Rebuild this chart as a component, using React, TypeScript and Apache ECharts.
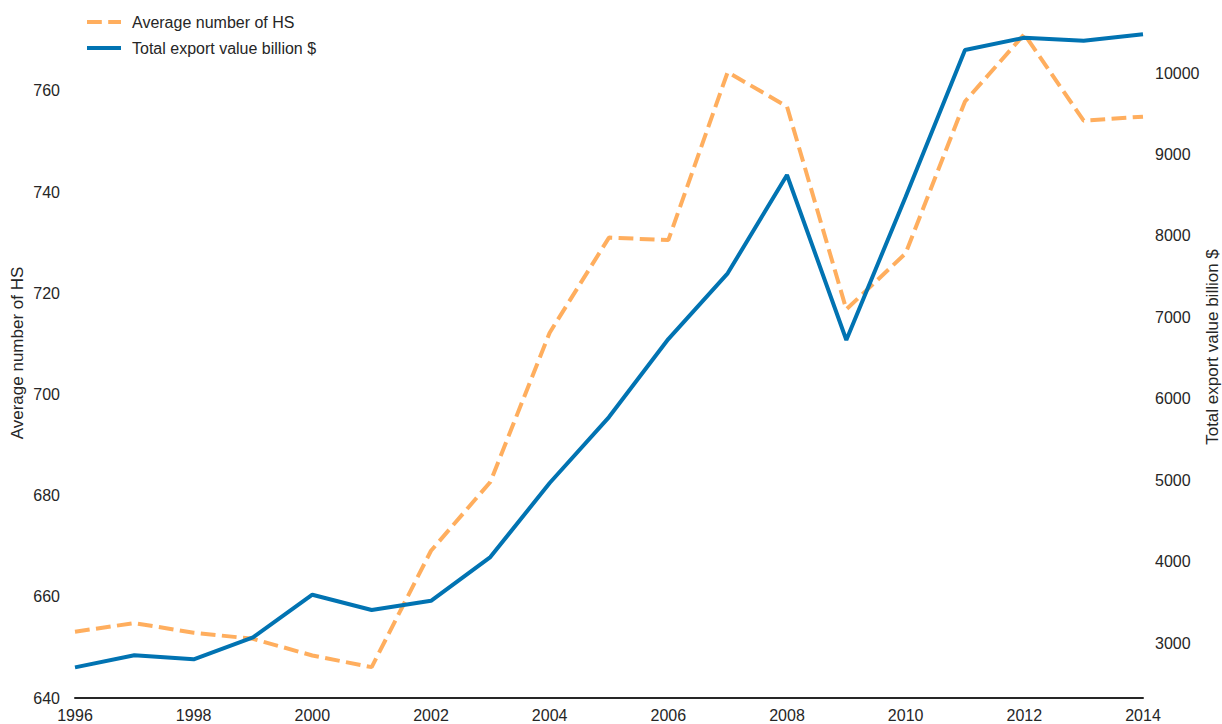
import React, { useEffect, useRef } from "react";
import * as echarts from "echarts";

const years = [1996, 1997, 1998, 1999, 2000, 2001, 2002, 2003, 2004, 2005, 2006, 2007, 2008, 2009, 2010, 2011, 2012, 2013, 2014];
const avgHS = [653.1, 654.8, 652.9, 651.7, 648.4, 646.1, 669.1, 682.7, 712.2, 731.0, 730.5, 763.7, 756.9, 716.8, 727.9, 757.9, 771.2, 754.1, 754.9];
const exportValue = [2701, 2849, 2800, 3070, 3593, 3405, 3519, 4056, 4965, 5775, 6733, 7540, 8747, 6721, 8481, 10282, 10433, 10396, 10475];

const leftName = "Average number of HS";
const rightName = "Total export value billion $";

const FONT = "'Liberation Sans', Arial, Helvetica, sans-serif";
const TEXT = "#262626";
const FS = 16;
const NAME_FS = 17;

export default function App() {
  const ref = useRef<HTMLDivElement>(null);
  useEffect(() => {
    if (!ref.current) return;
    const chart = echarts.init(ref.current, null, { renderer: "svg" });
    chart.setOption({
      animation: false,
      backgroundColor: "#ffffff",
      textStyle: { fontFamily: FONT },
      grid: { left: 75, right: 79, top: 20, bottom: 26, outerBoundsMode: "none", containLabel: false },
      legend: {
        orient: "vertical",
        left: 80,
        top: 9,
        itemWidth: 34,
        itemHeight: 14,
        itemGap: 10,
        itemStyle: { opacity: 0 },
        lineStyle: { width: 4 },
        textStyle: { fontFamily: FONT, fontSize: FS, color: TEXT, padding: [0, 0, 0, 6] },
        data: [leftName, rightName],
      },
      graphic: [
        {
          type: "text",
          x: 17,
          y: 353,
          rotation: Math.PI / 2,
          style: { text: leftName, fill: TEXT, font: `${NAME_FS}px ${FONT}`, textAlign: "center", textVerticalAlign: "middle" },
        },
        {
          type: "text",
          x: 1212,
          y: 347,
          rotation: Math.PI / 2,
          style: { text: rightName, fill: TEXT, font: `${NAME_FS}px ${FONT}`, textAlign: "center", textVerticalAlign: "middle" },
        },
      ],
      xAxis: {
        type: "value",
        min: 1996,
        max: 2014,
        interval: 2,
        axisLine: { show: true, lineStyle: { color: TEXT, width: 2 } },
        axisTick: { show: false },
        splitLine: { show: false },
        axisLabel: { color: TEXT, fontSize: FS, fontFamily: FONT, margin: 9, formatter: (v: number) => String(v) },
      },
      yAxis: [
        {
          type: "value",
          min: 640,
          max: 774,
          interval: 20,
          axisLine: { show: false },
          axisTick: { show: false },
          splitLine: { show: false },
          axisLabel: {
            color: TEXT,
            fontSize: FS,
            fontFamily: FONT,
            margin: 15,
            formatter: (v: number) => (Math.abs(v % 20) < 1e-6 ? String(v) : ""),
          },
        },
        {
          type: "value",
          min: 2325,
          max: 10651,
          splitNumber: 8,
          position: "right",
          axisLine: { show: false },
          axisTick: { show: false },
          splitLine: { show: false },
          axisLabel: {
            color: TEXT,
            fontSize: FS,
            fontFamily: FONT,
            margin: 12,
            formatter: (v: number) => (Math.abs(v % 1000) < 1e-6 ? String(v) : ""),
          },
        },
      ],
      series: [
        {
          name: leftName,
          type: "line",
          yAxisIndex: 0,
          data: years.map((y, i) => [y, avgHS[i]]),
          symbol: "none",
          itemStyle: { color: "#FFAE5E" },
          lineStyle: { color: "#FFAE5E", width: 4, type: [14.8, 6.4] },
        },
        {
          name: rightName,
          type: "line",
          yAxisIndex: 1,
          data: years.map((y, i) => [y, exportValue[i]]),
          symbol: "none",
          itemStyle: { color: "#0173B2" },
          lineStyle: { color: "#0173B2", width: 4 },
        },
      ],
    });
    return () => chart.dispose();
  }, []);
  return (
    <div
      ref={ref}
      style={{ position: "fixed", left: 0, top: 0, width: 1222, height: 724, overflow: "hidden" }}
    />
  );
}
